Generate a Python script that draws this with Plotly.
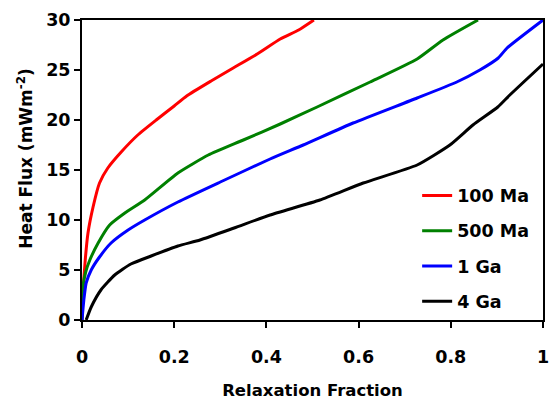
import plotly.graph_objects as go

# Relaxation fraction (x) and heat flux (y) for each age
x_100ma = [0.0, 0.002, 0.007, 0.013, 0.024, 0.038, 0.056, 0.085, 0.121, 0.161, 0.2, 0.227, 0.28, 0.328, 0.38, 0.43, 0.47, 0.503]
y_100ma = [0.0, 2.7, 6.0, 8.7, 11.3, 13.7, 15.2, 16.8, 18.5, 20.0, 21.4, 22.4, 23.9, 25.2, 26.6, 28.1, 29.0, 30.0]

x_500ma = [0.0, 0.002, 0.008, 0.017, 0.035, 0.06, 0.093, 0.136, 0.208, 0.274, 0.35, 0.43, 0.51, 0.625, 0.727, 0.783, 0.859]
y_500ma = [0.0, 3.3, 4.8, 6.0, 7.7, 9.5, 10.7, 12.0, 14.7, 16.5, 18.0, 19.6, 21.3, 23.8, 26.1, 28.0, 30.0]

x_1ga = [0.0, 0.004, 0.009, 0.02, 0.038, 0.063, 0.1, 0.136, 0.208, 0.3, 0.408, 0.48, 0.588, 0.727, 0.813, 0.863, 0.903, 0.922, 1.0]
y_1ga = [0.0, 2.0, 3.7, 5.0, 6.3, 7.7, 9.0, 10.0, 11.8, 13.8, 16.1, 17.5, 19.7, 22.2, 23.8, 25.0, 26.2, 27.2, 30.0]

x_4ga = [0.009, 0.02, 0.041, 0.071, 0.106, 0.15, 0.208, 0.256, 0.33, 0.408, 0.516, 0.61, 0.727, 0.798, 0.848, 0.902, 0.928, 1.0]
y_4ga = [0.0, 1.3, 3.0, 4.5, 5.6, 6.4, 7.4, 8.0, 9.2, 10.5, 12.0, 13.7, 15.5, 17.5, 19.5, 21.3, 22.5, 25.6]

series = [
    ("100 Ma", x_100ma, y_100ma, "#ff0000"),
    ("500 Ma", x_500ma, y_500ma, "#008000"),
    ("1 Ga", x_1ga, y_1ga, "#0000ff"),
    ("4 Ga", x_4ga, y_4ga, "#000000"),
]

x_ticks = [0, 0.2, 0.4, 0.6, 0.8, 1]
x_ticklabels = ["0", "0.2", "0.4", "0.6", "0.8", "1"]
y_ticks = [0, 5, 10, 15, 20, 25, 30]

FONT = "DejaVu Sans, Liberation Sans, Arial, sans-serif"

fig = go.Figure()
for name, xs, ys, col in series:
    fig.add_trace(go.Scatter(x=xs, y=ys, mode="lines", name="<b>" + name + "</b>",
                             legendgroup=name,
                             line=dict(color=col, width=3, shape="spline", smoothing=0.5)))

fig.update_layout(
    width=549, height=401,
    margin=dict(l=82, r=6, t=20, b=81),
    paper_bgcolor="white", plot_bgcolor="white",
    font=dict(family=FONT, color="black", size=16),
    showlegend=True,
    legend=dict(x=0.727, y=0.475, xanchor="left", yanchor="top",
                bgcolor="rgba(0,0,0,0)", tracegroupgap=9.5,
                font=dict(family=FONT, size=17.5)),
    annotations=[dict(text="<b>Heat Flux (mWm<sup>-2</sup>)</b>", textangle=-90,
                      xref="paper", yref="paper", x=-0.124, y=0.54,
                      xanchor="center", yanchor="middle", showarrow=False,
                      font=dict(family=FONT, size=17))],
)
fig.update_xaxes(range=[0, 1], tickvals=x_ticks,
                 ticktext=["<b>" + t + "</b>" for t in x_ticklabels],
                 showgrid=False, zeroline=False, automargin=False,
                 showline=True, linecolor="black", linewidth=2, mirror=True,
                 ticks="outside", ticklen=6, tickwidth=1.5, tickcolor="black",
                 ticklabelstandoff=14, ticklabeloverflow="allow",
                 tickfont=dict(size=17.5),
                 title=dict(text="<b>Relaxation Fraction</b>", font=dict(size=16.5), standoff=18))
fig.update_yaxes(range=[0, 30], tickvals=y_ticks,
                 ticktext=["<b>%d</b>" % v for v in y_ticks],
                 showgrid=False, zeroline=False, automargin=False,
                 showline=True, linecolor="black", linewidth=2, mirror=True,
                 ticks="outside", ticklen=6, tickwidth=1.5, tickcolor="black",
                 tickfont=dict(size=17.5))

fig.write_html("out.html", config={"displayModeBar": False},
               post_script="document.body.style.margin='0px';")
